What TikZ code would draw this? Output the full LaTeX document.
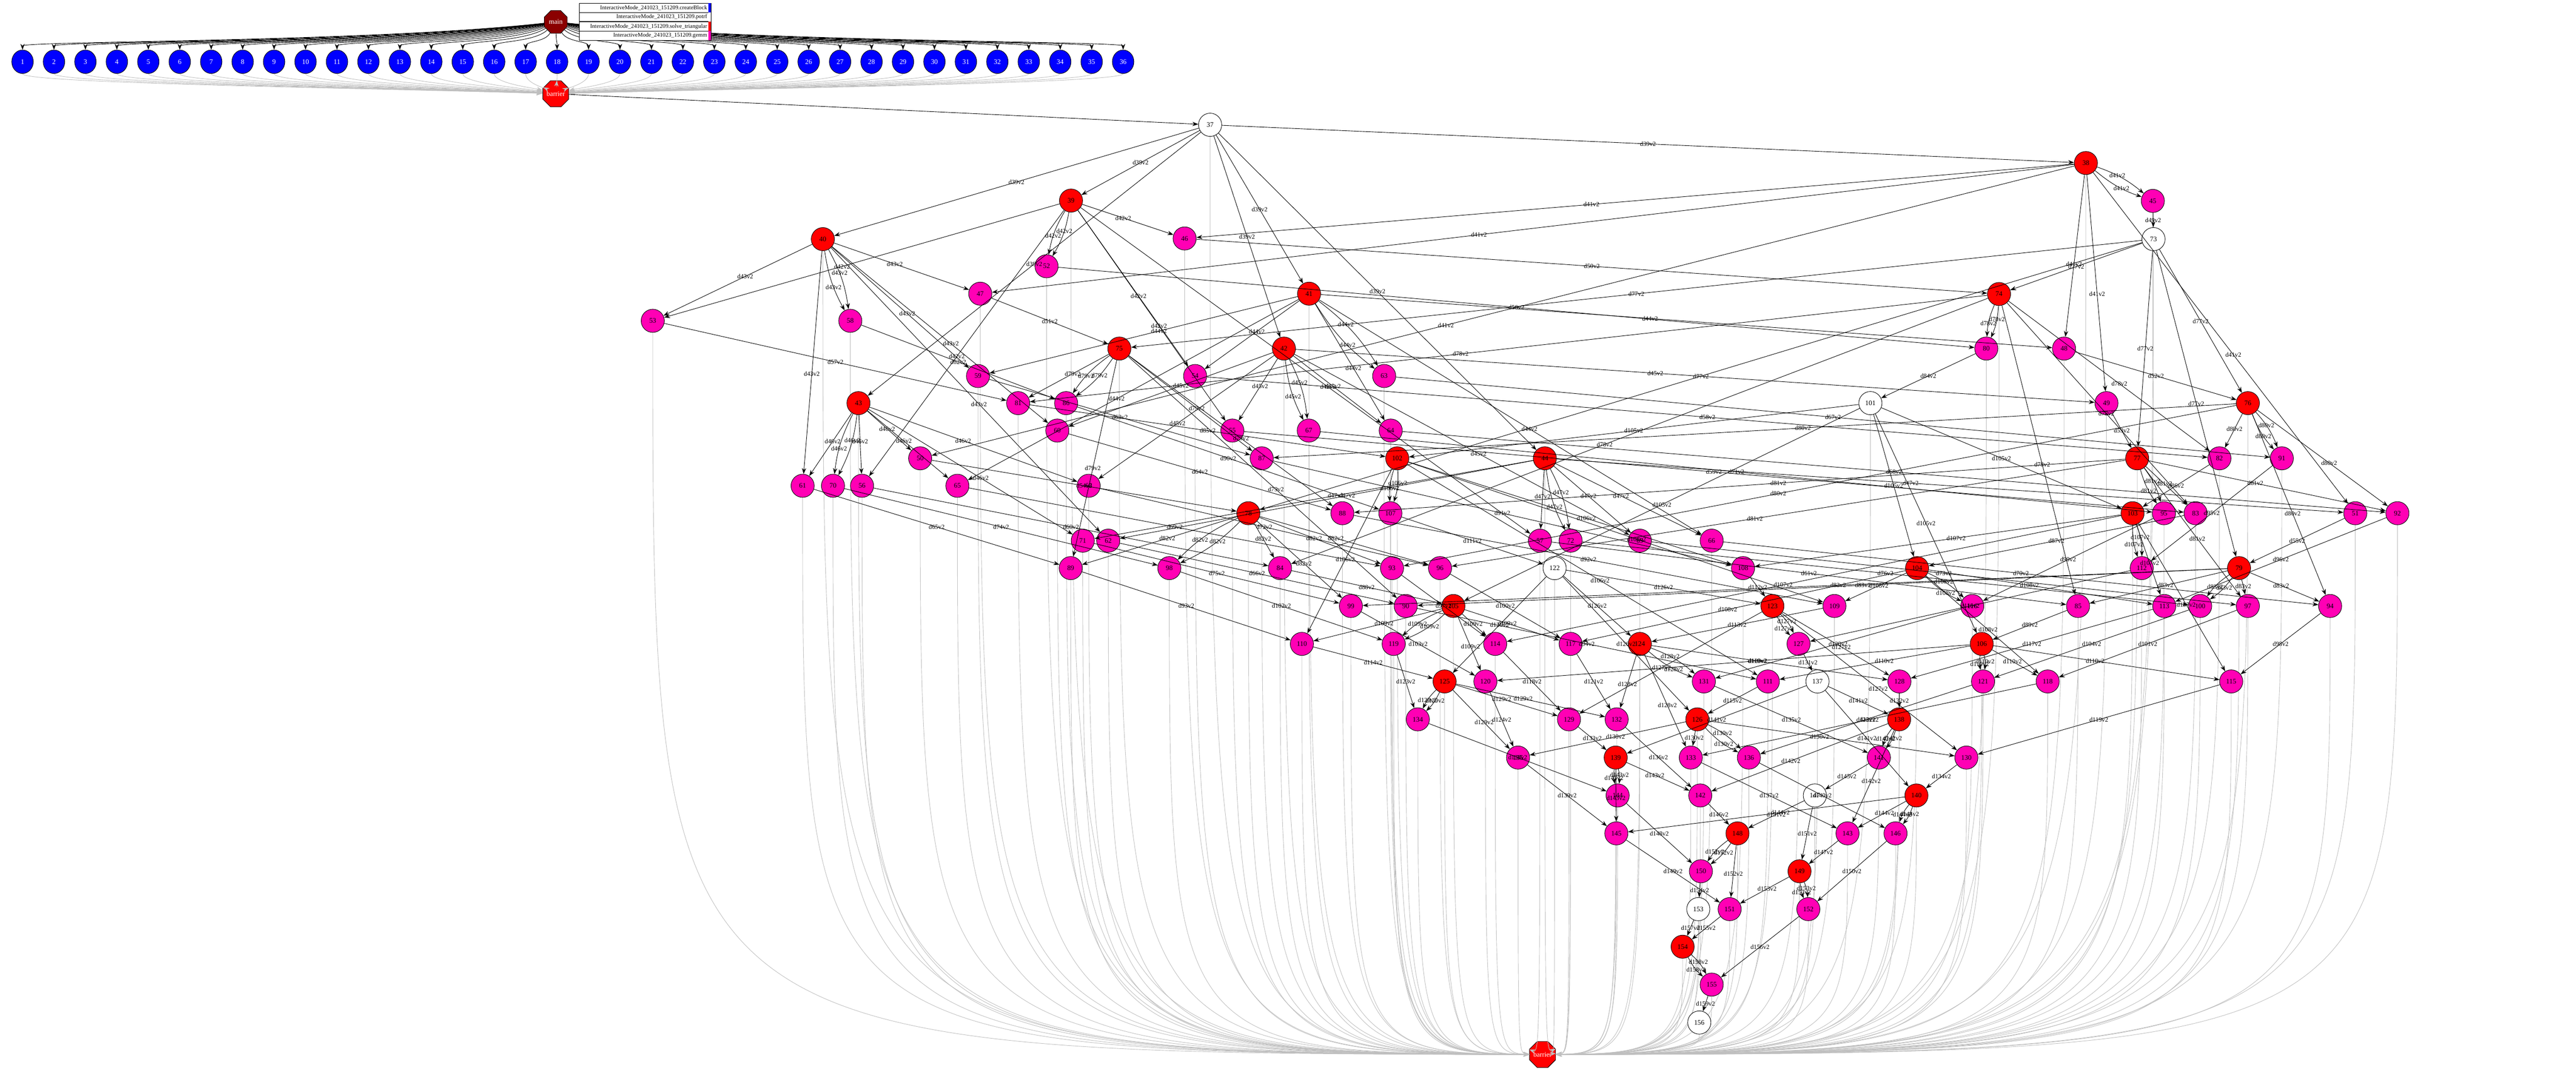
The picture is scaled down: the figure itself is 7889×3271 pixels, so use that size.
\documentclass[tikz,border=0pt]{standalone}
\usepackage{fontspec}
\setmainfont{Liberation Serif}
\usetikzlibrary{arrows.meta,shapes.geometric}
\definecolor{gemmpink}{HTML}{FF00B4}
\definecolor{mainred}{HTML}{8B0000}
\tikzset{
  task/.style={circle, draw=black, minimum size=7.1mm, inner sep=0pt, font=\fontsize{6}{7}\selectfont},
  potrf/.style={task, fill=white},
  trsm/.style={task, fill=red},
  gemm/.style={task, fill=gemmpink},
  block/.style={ellipse, draw=black, fill=blue, text=white, minimum width=6.6mm, minimum height=7.2mm, inner sep=0pt, font=\fontsize{6}{7}\selectfont},
  octo/.style={regular polygon, regular polygon sides=8, draw=black, text=white, minimum size=7.6mm, inner sep=0pt, font=\fontsize{6}{7}\selectfont},
  dep/.style={draw=black, line width=0.4pt, -{Stealth[length=1.8mm,width=1.3mm]}},
  exitline/.style={draw=black!25, line width=0.4pt, -{Stealth[length=1.8mm,width=1.3mm]}},
  lbl/.style={font=\fontsize{5.5}{6}\selectfont, inner sep=1pt},
  legrow/.style={draw=black, fill=white, minimum width=4.03cm, minimum height=2.8mm, inner sep=0pt, font=\fontsize{5}{6}\selectfont},
}
\def\tasklist{37/3706/382/potrf, 38/6388/499/trsm, 39/3280/614/trsm, 40/2520/732/trsm,
  41/4009/899/trsm, 42/3932/1067/trsm, 43/2629/1234/trsm, 44/4731/1403/trsm,
  45/6593/615/gemm, 46/3628/730/gemm, 47/3002/899/gemm, 48/6321/1067/gemm,
  49/6451/1234/gemm, 50/2818/1403/gemm, 51/7213/1571/gemm, 52/3205/815/gemm,
  53/1999/982/gemm, 54/3660/1151/gemm, 55/3774/1318/gemm, 56/2640/1487/gemm,
  57/4716/1655/gemm, 58/2604/982/gemm, 59/2995/1151/gemm, 60/3238/1318/gemm,
  61/2458/1487/gemm, 62/3394/1655/gemm, 63/4239/1151/gemm, 64/4259/1318/gemm,
  65/2932/1487/gemm, 66/5242/1655/gemm, 67/4008/1318/gemm, 68/3334/1487/gemm,
  69/5022/1655/gemm, 70/2551/1487/gemm, 71/3316/1655/gemm, 72/4810/1655/gemm,
  73/6595/732/potrf, 74/6122/900/trsm, 75/3428/1067/trsm, 76/6884/1234/trsm,
  77/6545/1403/trsm, 78/3823/1571/trsm, 79/6857/1739/trsm, 80/6083/1067/gemm,
  81/3118/1234/gemm, 82/6797/1403/gemm, 83/6724/1571/gemm, 84/3920/1739/gemm,
  85/6364/1855/gemm, 86/3265/1234/gemm, 87/3864/1403/gemm, 88/4111/1571/gemm,
  89/3279/1739/gemm, 90/4305/1855/gemm, 91/6988/1403/gemm, 92/7342/1571/gemm,
  93/4263/1739/gemm, 94/7136/1855/gemm, 95/6627/1571/gemm, 96/4410/1739/gemm,
  97/6884/1855/gemm, 98/3581/1739/gemm, 99/4137/1855/gemm, 100/6738/1855/gemm,
  101/5728/1234/potrf, 102/4279/1403/trsm, 103/6531/1571/trsm, 104/5871/1739/trsm,
  105/4451/1855/trsm, 106/6069/1971/trsm, 107/4258/1571/gemm, 108/5338/1739/gemm,
  109/5618/1855/gemm, 110/3987/1971/gemm, 111/5414/2086/gemm, 112/6559/1739/gemm,
  113/6628/1855/gemm, 114/4579/1971/gemm, 115/6833/2086/gemm, 116/6040/1855/gemm,
  117/4810/1971/gemm, 118/6271/2086/gemm, 119/4268/1971/gemm, 120/4549/2086/gemm,
  121/6073/2086/gemm, 122/4761/1739/potrf, 123/5428/1855/trsm, 124/5022/1971/trsm,
  125/4424/2086/trsm, 126/5198/2202/trsm, 127/5508/1971/gemm, 128/5817/2086/gemm,
  129/4805/2202/gemm, 130/6022/2319/gemm, 131/5218/2086/gemm, 132/4951/2202/gemm,
  133/5178/2319/gemm, 134/4342/2202/gemm, 135/4649/2319/gemm, 136/5356/2319/gemm,
  137/5566/2086/potrf, 138/5816/2202/trsm, 139/4948/2319/trsm, 140/5869/2435/trsm,
  141/5754/2319/gemm, 142/5207/2435/gemm, 143/5658/2551/gemm, 144/4954/2435/gemm,
  145/4950/2551/gemm, 146/5805/2551/gemm, 147/5558/2435/potrf, 148/5321/2551/trsm,
  149/5511/2667/trsm, 150/5209/2667/gemm, 151/5297/2783/gemm, 152/5538/2783/gemm,
  153/5201/2783/potrf, 154/5153/2898/trsm, 155/5242/3014/gemm, 156/5204/3130/potrf}
\begin{document}
\begin{tikzpicture}[x=0.01cm, y=-0.01cm]
  \useasboundingbox (0,0) rectangle (7889,3271);
  \node[octo, fill=mainred] (main) at (1702,67) {main};
  \node[octo, fill=red] (barrier) at (1702,287) {barrier};
  \node[octo, fill=red] (exit) at (4724,3228) {barrier};
  % gray lines to the last barrier
  \foreach \id/\x/\y/\kind in \tasklist
    \draw[exitline] (\x,\y+36) .. controls (\x,3200) and (\x,3225) .. (exit);
  \foreach \n in {1,...,36} {
    \pgfmathsetmacro\bx{69+96.3*(\n-1)}
    \pgfmathsetmacro\cx{1702+0.35*(\bx-1702)}
    \node[block] (b\n) at (\bx,189) {\n};
    \draw[dep] (main) .. controls (\cx,130) and (\bx,125) .. (b\n);
    \draw[exitline] (b\n) .. controls (\bx,255) and (\cx,270) .. (barrier);
  }
  \foreach \id/\x/\y/\kind in \tasklist
    \node[\kind] (t\id) at (\x,\y) {\id};
  \draw[dep] (barrier) -- (t37);
  % potrf -> solve_triangular
  \foreach \k/\p/\tb/\poff in {0/37/38/2, 1/73/74/4, 2/101/102/4, 3/122/123/4, 4/137/138/4, 5/147/148/4, 6/153/154/4} {
    \pgfmathtruncatemacro\lo{\k+1}
    \pgfmathtruncatemacro\lp{\p+\poff}
    \foreach \i in {\lo,...,7} {
      \pgfmathtruncatemacro\ti{\tb+\i-\k-1}
      \draw[dep] (t\p) -- node[lbl]{d\lp v2} (t\ti);
    }
  }
  % solve_triangular -> gemm, gemm -> next step
  \foreach \k/\tb/\ub/\toff in {0/38/45/3, 1/74/80/4, 2/102/107/4, 3/123/127/4, 4/138/141/4, 5/148/150/4, 6/154/155/4} {
    \pgfmathtruncatemacro\lo{\k+1}
    \foreach \j in {\lo,...,7} {
      \foreach \i in {\j,...,7} {
        \pgfmathtruncatemacro\m{\j-\k-1}
        \pgfmathtruncatemacro\u{\ub+8*\m-\m*(\k+\j)/2+\i-\j}
        \pgfmathtruncatemacro\ti{\tb+\i-\k-1}
        \pgfmathtruncatemacro\tj{\tb+\j-\k-1}
        \pgfmathtruncatemacro\li{\ti+\toff}
        \pgfmathtruncatemacro\lj{\tj+\toff}
        \pgfmathtruncatemacro\lu{\u+4}
        \pgfmathtruncatemacro\kn{\k+1}
        \ifnum\i=\j
          \draw[dep] (t\ti) to[bend left=10] node[lbl, pos=0.4]{d\li v2} (t\u);
          \draw[dep] (t\ti) to[bend right=10] node[lbl, pos=0.6]{d\li v2} (t\u);
        \else
          \draw[dep] (t\ti) -- node[lbl, pos=0.45]{d\li v2} (t\u);
          \draw[dep] (t\tj) -- node[lbl, pos=0.55]{d\lj v2} (t\u);
        \fi
        \ifnum\j=\kn
          \ifnum\i=\j
            \pgfmathtruncatemacro\nx{{37,73,101,122,137,147,153,156}[\kn]}
          \else
            \pgfmathtruncatemacro\nx{{38,74,102,123,138,148,154,154}[\kn]+\i-\k-2}
          \fi
        \else
          \pgfmathtruncatemacro\mm{\j-\k-2}
          \pgfmathtruncatemacro\nx{{45,80,107,127,141,150,155,155}[\kn]+8*\mm-\mm*(\kn+\j)/2+\i-\j}
        \fi
        \draw[dep] (t\u) -- node[lbl]{d\lu v2} (t\nx);
      }
    }
  }
  % legend
  \foreach \r/\c/\txt/\yy in {1/blue/createBlock/24, 2/white/potrf/52, 3/red/solve\_triangular/81, 4/gemmpink/gemm/109} {
    \node[legrow] (leg\r) at (1976,\yy) {};
    \fill[\c] ([xshift=-0.9mm]leg\r.north east) rectangle ([xshift=-0.1mm]leg\r.south east);
    \node[font=\fontsize{5}{6}\selectfont, anchor=east, inner sep=0pt] at ([xshift=-1.2mm]leg\r.east) {InteractiveMode\_241023\_151209.\txt};
  }
\end{tikzpicture}
\end{document}
